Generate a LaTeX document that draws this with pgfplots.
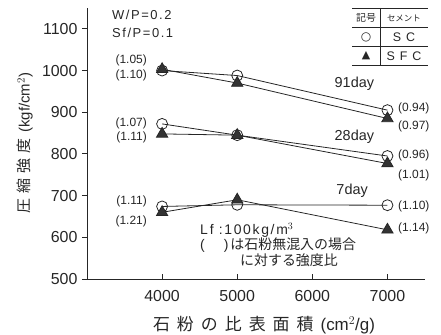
\documentclass[border=0pt]{standalone}
\usepackage{fontspec}
\setmainfont{Liberation Sans}
\newfontfamily\jp{Noto Sans CJK JP}
\newfontfamily\sym{DejaVu Sans}
\newfontfamily\spaced[LetterSpace=12]{Liberation Sans}
\usepackage{pgfplots}
\pgfplotsset{compat=1.18}
\begin{document}
\begin{tikzpicture}
\useasboundingbox (0,0) rectangle (441bp,335bp);
\begin{axis}[
  at={(87bp,56bp)}, anchor=south west,
  scale only axis, width=338bp, height=271bp,
  xmin=3000, xmax=7500, ymin=500, ymax=1150,
  axis lines=left, axis line style={-, line width=1bp, black!85},
  xtick={4000,5000,6000,7000}, ytick={500,600,...,1100},
  /pgf/number format/1000 sep={},
  /pgf/number format/assume math mode=true,
  tick align=outside, major tick length=5bp,
  tick style={black!85, line width=0.9bp},
  x tick style={yshift=5bp},
  ticklabel style={font=\fontsize{16}{18}\selectfont, text=black!85},
  xticklabel style={yshift=-3bp},
  yticklabel style={xshift=-1bp},
  clip=false,
]
\addplot[black!85, line width=0.8bp, mark=o, mark size=5.5bp, mark options={fill=white, line width=0.8bp}] coordinates {(4000,1000) (5000,988) (7000,905)};
\addplot[black!85, line width=0.8bp, mark=triangle*, mark size=6.5bp, mark options={fill=black!80}] coordinates {(4000,1003) (5000,970) (7000,885)};
\addplot[black!85, line width=0.8bp, mark=o, mark size=5.5bp, mark options={fill=white, line width=0.8bp}] coordinates {(4000,872) (5000,845) (7000,795)};
\addplot[black!85, line width=0.8bp, mark=triangle*, mark size=6.5bp, mark options={fill=black!80}] coordinates {(4000,848) (5000,845) (7000,777)};
\addplot[black!85, line width=0.8bp, mark=o, mark size=5.5bp, mark options={fill=white, line width=0.8bp}] coordinates {(4000,674) (5000,678) (7000,677)};
\addplot[black!85, line width=0.8bp, mark=triangle*, mark size=6.5bp, mark options={fill=black!80}] coordinates {(4000,660) (5000,690) (7000,618)};

\begin{scope}[every node/.style={text=black!85, font=\fontsize{12}{14}\selectfont, inner sep=0pt}]
\node[anchor=east] at (3799,1025) {(1.05)};
\node[anchor=east] at (3799,989) {(1.10)};
\node[anchor=east] at (3799,874) {(1.07)};
\node[anchor=east] at (3799,840) {(1.11)};
\node[anchor=east] at (3799,685) {(1.11)};
\node[anchor=east] at (3799,639) {(1.21)};
\node[anchor=west] at (7140,910) {(0.94)};
\node[anchor=west] at (7140,867) {(0.97)};
\node[anchor=west] at (7140,797) {(0.96)};
\node[anchor=west] at (7140,749) {(1.01)};
\node[anchor=west] at (7140,675) {(1.10)};
\node[anchor=west] at (7140,622) {(1.14)};
\end{scope}
\begin{scope}[every node/.style={text=black!85, font=\fontsize{14.5}{16}\selectfont, inner sep=0pt}]
\node at (6560,968) {91day};
\node at (6560,840) {28day};
\node at (6530,711) {7day};
\end{scope}
\begin{scope}[every node/.style={text=black!85, inner sep=0pt, anchor=west}]
\node[font=\spaced\fontsize{13}{15}\selectfont] at (3333,1133) {W/P=0.2};
\node[font=\spaced\fontsize{13}{15}\selectfont] at (3333,1090) {Sf/P=0.1};
\end{scope}
\end{axis}

% notes
\begin{scope}[every node/.style={text=black!85, inner sep=0pt, anchor=west}]
\node[font=\spaced\fontsize{14}{16}\selectfont] at (200bp,335bp-230bp) {L\hspace{2bp}f\hspace{5bp}:100kg/m$^3$};
\node[font=\fontsize{14}{16}\selectfont] at (200bp,335bp-245bp) {(\hspace{19bp})\hspace{2bp}{\jp\fontsize{14}{16}\selectfont は石粉無混入の場合}};
\node[font=\jp\fontsize{14}{16}\selectfont] at (240bp,335bp-260bp) {に対する強度比};
\end{scope}

% legend table
\begin{scope}[line width=0.9bp, black!85]
\draw (352bp,335bp-8bp) -- (428bp,335bp-8bp);
\draw (352bp,335bp-27bp) -- (428bp,335bp-27bp);
\draw (352bp,335bp-46bp) -- (428bp,335bp-46bp);
\draw (352bp,335bp-65bp) -- (428bp,335bp-65bp);
\draw (380bp,335bp-8bp) -- (380bp,335bp-65bp);
\end{scope}
\begin{scope}[every node/.style={text=black!85, inner sep=0pt}]
\node[font=\jp\fontsize{10}{12}\selectfont] at (366bp,335bp-18bp) {記号};
\node[font=\jp\fontsize{8.5}{10}\selectfont] at (404bp,335bp-18bp) {セメント};
\node[font=\sym\fontsize{12}{14}\selectfont] at (366bp,335bp-37bp) {○};
\node[font=\sym\fontsize{11}{14}\selectfont] at (366bp,335bp-56bp) {▲};
\node[font=\spaced\fontsize{12.5}{14}\selectfont] at (404bp,335bp-37bp) {S C};
\node[font=\spaced\fontsize{12.5}{14}\selectfont] at (404bp,335bp-56bp) {S F C};
\end{scope}

% axis titles
\node[text=black!85, inner sep=0pt, rotate=90, font=\fontsize{15}{17}\selectfont] at (25bp,335bp-143bp)
  {{\jp 圧\hspace{5bp}縮\hspace{5bp}強\hspace{5bp}度}\hspace{6bp}(kgf/cm$^2$)};
\node[text=black!85, inner sep=0pt, font=\fontsize{17}{19}\selectfont] at (264bp,335bp-325bp)
  {{\jp 石\hspace{7bp}粉\hspace{7bp}の\hspace{7bp}比\hspace{7bp}表\hspace{7bp}面\hspace{7bp}積}\hspace{7bp}(cm$^2$/g)};
\end{tikzpicture}
\end{document}
